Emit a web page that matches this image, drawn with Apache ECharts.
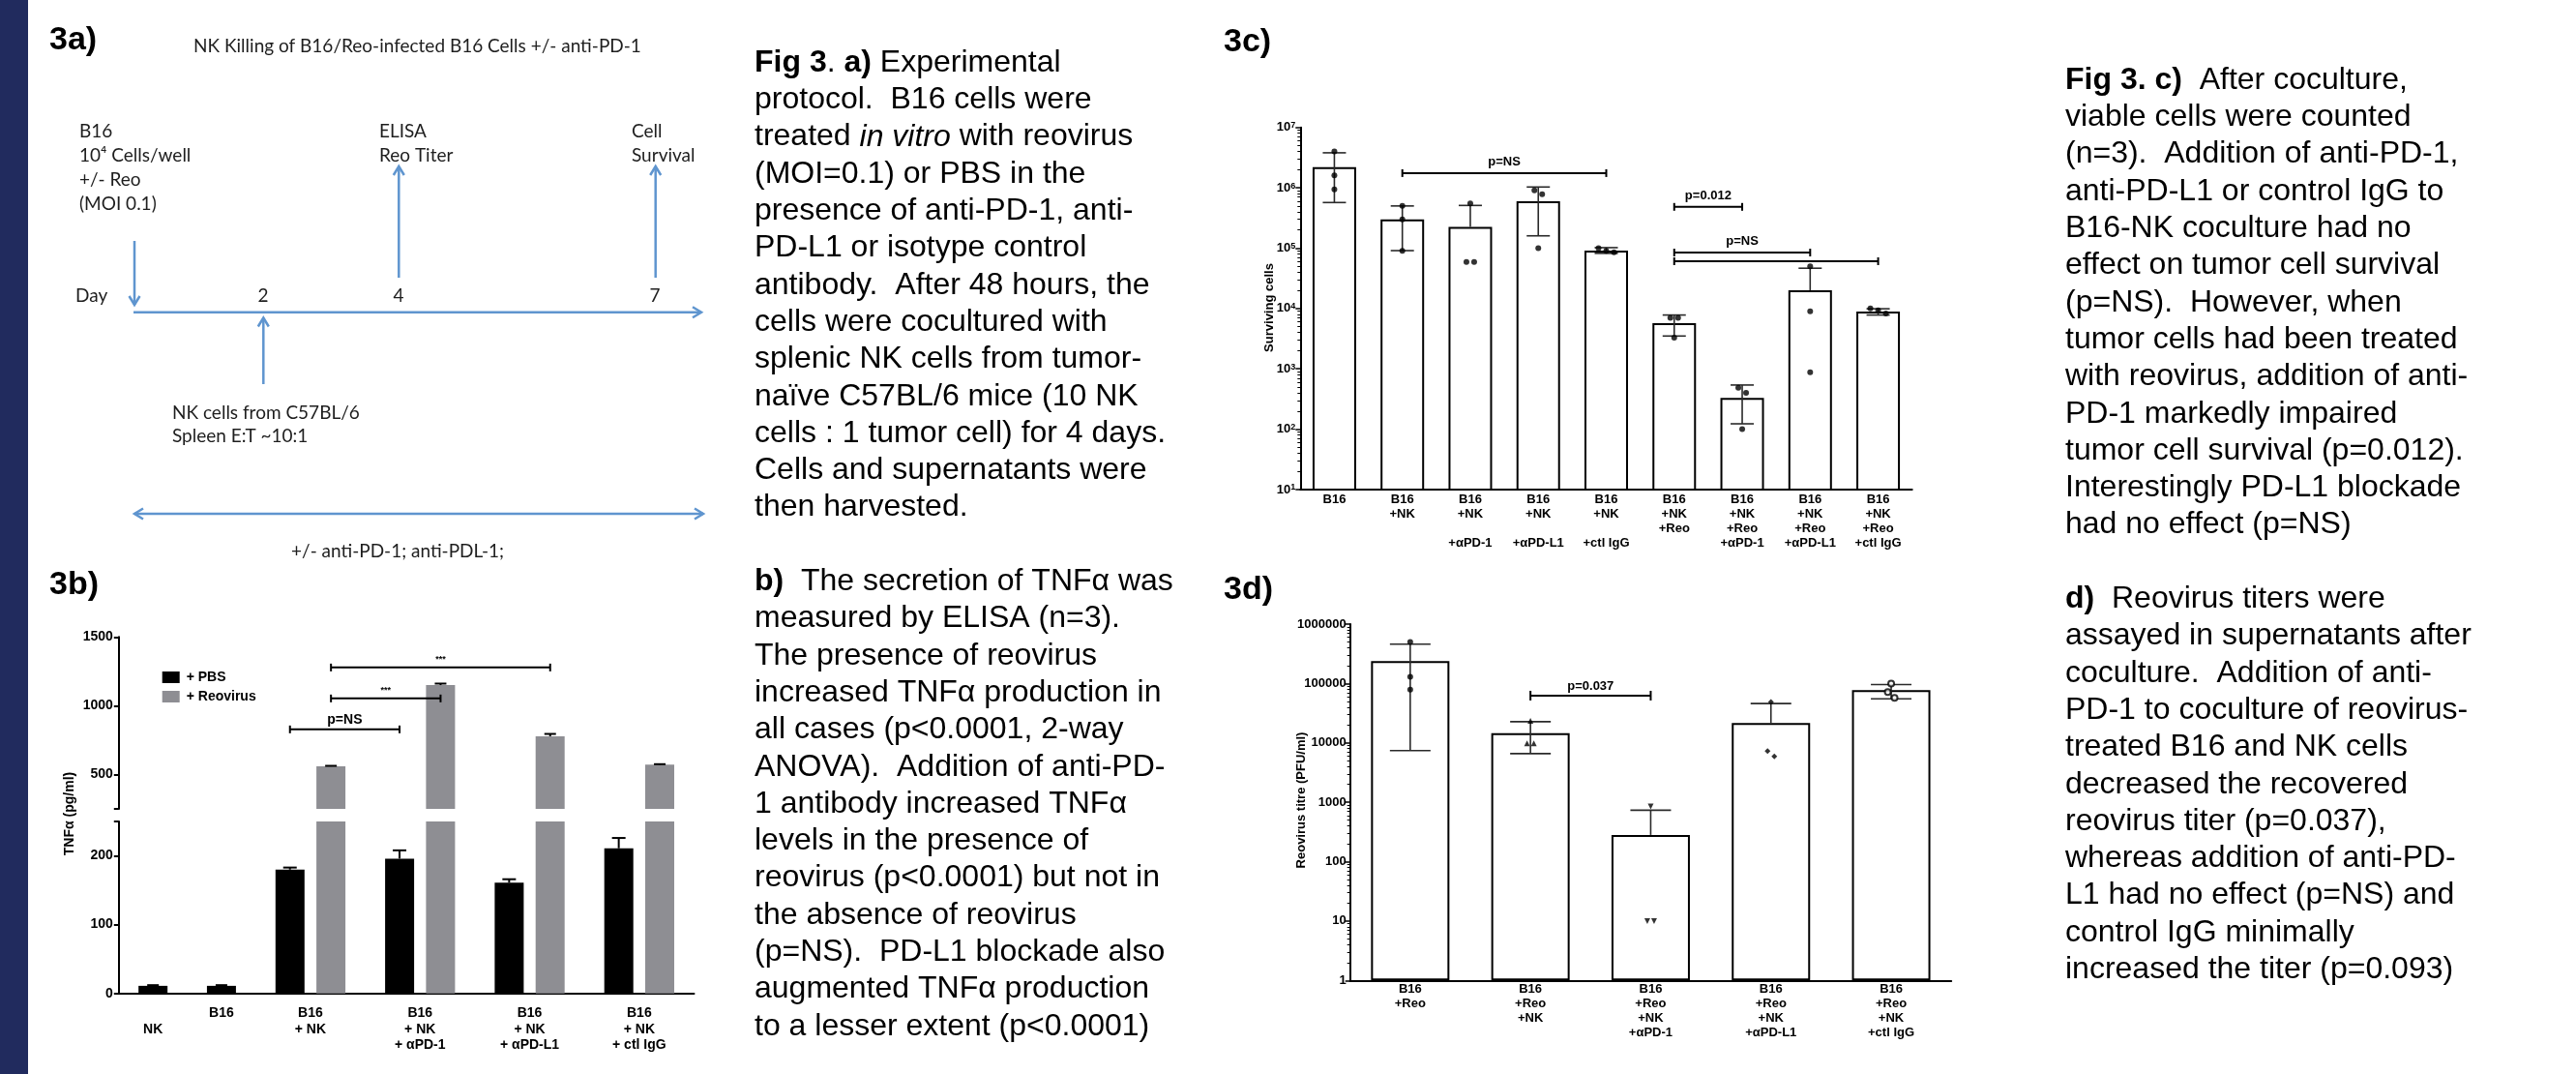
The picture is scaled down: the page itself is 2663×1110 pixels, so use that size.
<!DOCTYPE html>
<html>
<head>
<meta charset="utf-8">
<title>Fig 3 - NK killing of B16 / Reo-infected B16 cells +/- anti-PD-1</title>
<script src="https://cdn.jsdelivr.net/npm/echarts@6/dist/echarts.min.js"></script>
<style>
html, body { margin: 0; padding: 0; background: #fff; }
#chart { width: 2663px; height: 1110px; }
</style>
</head>
<body>
<div id="chart"></div>
<script>
var SANS = "'Liberation Sans', Arial, Helvetica, sans-serif";
var CALIBRI = "Lato, 'Open Sans', sans-serif";
var BLUE = '#5f95cf';
var GREY = '#8e8e93';

// ---- 3b: TNFa ELISA ----
var tnfControlCats = ['NK', 'B16'];
var tnfControlVals = [11, 11];
var tnfControlErr = [1, 1];
var tnfGroupCats = ['B16\n+ NK', 'B16\n+ NK\n+ αPD-1', 'B16\n+ NK\n+ αPD-L1', 'B16\n+ NK\n+ ctl IgG'];
var tnfPbs = [180, 196, 161, 211];
var tnfPbsErr = [3, 12, 5, 15];
var tnfReo = [559, 1150, 778, 572];
var tnfReoErr = [4, 11, 17, 3];
// side: -1 = PBS bar, 1 = Reovirus bar
var tnfBrackets = [
    { from: 0, fromSide: -1, to: 1, toSide: -1, y: 828, text: 'p=NS' },
    { from: 0, fromSide: 1, to: 1, toSide: 1, y: 1053, text: '***' },
    { from: 0, fromSide: 1, to: 2, toSide: 1, y: 1278, text: '***' }
];

// ---- 3c: surviving cells ----
var survCats = ['B16', 'B16\n+NK', 'B16\n+NK\n\n+αPD-1', 'B16\n+NK\n\n+αPD-L1', 'B16\n+NK\n\n+ctl IgG',
    'B16\n+NK\n+Reo', 'B16\n+NK\n+Reo\n+αPD-1', 'B16\n+NK\n+Reo\n+αPD-L1', 'B16\n+NK\n+Reo\n+ctl IgG'];
var survMean = [2.2e6, 3.0e5, 2.24e5, 6.0e5, 9.1e4, 5.7e3, 330, 2.0e4, 8.9e3];
var survLow = [5.7e5, 9.1e4, null, 1.6e5, 8.2e4, 3.5e3, 123, null, 7.8e3];
var survHigh = [3.8e6, 5.0e5, 5.1e5, 1.03e6, 1.02e5, 7.8e3, 540, 4.65e4, 9.9e3];
var survPoints = [
    [4.0e6, 1.6e6, 9.4e5], [5.0e5, 3.0e5, 9.0e4], [5.5e5, 5.9e4, 5.9e4],
    [9.1e5, 7.8e5, 1.0e5], [1.0e5, 9.0e4, 8.5e4], [7.0e3, 7.0e3, 3.3e3],
    [485, 400, 100], [5.0e4, 9.0e3, 880], [1.0e4, 9.3e3, 8.3e3]
];
var survBrackets = [
    { from: 1, to: 4, y: 1.75e6, text: 'p=NS' },
    { from: 5, to: 6, y: 4.83e5, text: 'p=0.012' },
    { from: 5, to: 7, y: 8.45e4, text: 'p=NS' },
    { from: 5, to: 8, y: 6.07e4, text: '' }
];

// ---- 3d: reovirus titre ----
var titreCats = ['B16\n+Reo', 'B16\n+Reo\n+NK', 'B16\n+Reo\n+NK\n+αPD-1', 'B16\n+Reo\n+NK\n+αPD-L1', 'B16\n+Reo\n+NK\n+ctl IgG'];
var titreMean = [2.38e5, 1.46e4, 282, 2.15e4, 7.7e4];
var titreLow = [7.4e3, 6.6e3, null, null, 5.5e4];
var titreHigh = [4.6e5, 2.27e4, 735, 4.6e4, 9.6e4];
var titrePoints = [
    [5.0e5, 1.3e5, 7.9e4], [2.35e4, 9.8e3, 9.8e3], [850, 10, 10],
    [4.9e4, 7.3e3, 5.9e3], [1.0e5, 7.2e4, 5.7e4]
];
var titreSymbols = ['circle', 'triangle', 'triangle', 'diamond', 'emptyCircle'];
var titreSymbolRotate = [0, 0, 180, 0, 0];
var titreBrackets = [{ from: 1, to: 2, y: 6.24e4, text: 'p=0.037' }];

// ---- legends text ----
var captionLeft = [
    '{b|Fig 3}. {b|a)} Experimental',
    'protocol.  B16 cells were',
    'treated {i|in vitro} with reovirus',
    '(MOI=0.1) or PBS in the',
    'presence of anti-PD-1, anti-',
    'PD-L1 or isotype control',
    'antibody.  After 48 hours, the',
    'cells were cocultured with',
    'splenic NK cells from tumor-',
    'naïve C57BL/6 mice (10 NK',
    'cells : 1 tumor cell) for 4 days.',
    'Cells and supernatants were',
    'then harvested.',
    '',
    '{b|b)}  The secretion of TNFα was',
    'measured by ELISA (n=3).',
    'The presence of reovirus',
    'increased TNFα production in',
    'all cases (p<0.0001, 2-way',
    'ANOVA).  Addition of anti-PD-',
    '1 antibody increased TNFα',
    'levels in the presence of',
    'reovirus (p<0.0001) but not in',
    'the absence of reovirus',
    '(p=NS).  PD-L1 blockade also',
    'augmented TNFα production',
    'to a lesser extent (p<0.0001)'
];
var captionRight = [
    '{b|Fig 3. c)}  After coculture,',
    'viable cells were counted',
    '(n=3).  Addition of anti-PD-1,',
    'anti-PD-L1 or control IgG to',
    'B16-NK coculture had no',
    'effect on tumor cell survival',
    '(p=NS).  However, when',
    'tumor cells had been treated',
    'with reovirus, addition of anti-',
    'PD-1 markedly impaired',
    'tumor cell survival (p=0.012).',
    'Interestingly PD-L1 blockade',
    'had no effect (p=NS)',
    '',
    '{b|d)}  Reovirus titers were',
    'assayed in supernatants after',
    'coculture.  Addition of anti-',
    'PD-1 to coculture of reovirus-',
    'treated B16 and NK cells',
    'decreased the recovered',
    'reovirus titer (p=0.037),',
    'whereas addition of anti-PD-',
    'L1 had no effect (p=NS) and',
    'control IgG minimally',
    'increased the titer (p=0.093)'
];

// ---------- helpers ----------
function txt(s, x, y, font, align, color) {
    return {
        type: 'text', x: x, y: y, silent: true,
        style: {
            text: s, font: font, fill: color || '#000',
            align: align || 'left', verticalAlign: 'middle',
            textAlign: align || 'left', textVerticalAlign: 'middle'
        }
    };
}

function vtxt(s, x, y, font) {
    var t = txt(s, 0, 0, font, 'center');
    t.x = x;
    t.y = y;
    t.rotation = Math.PI / 2;
    return t;
}

function arrowHead(x, y, d) {
    var len = 9, half = 5.5;
    var bx = x - d[0] * len, by = y - d[1] * len;
    var px = -d[1] * half, py = d[0] * half;
    return {
        type: 'polyline', silent: true,
        shape: { points: [[bx + px, by + py], [x, y], [bx - px, by - py]] },
        style: { stroke: BLUE, lineWidth: 2.5, fill: 'none' }
    };
}

function arrow(x1, y1, x2, y2, both) {
    var dx = x2 - x1, dy = y2 - y1, l = Math.sqrt(dx * dx + dy * dy);
    var d = [dx / l, dy / l];
    var els = [
        { type: 'line', silent: true, shape: { x1: x1, y1: y1, x2: x2, y2: y2 }, style: { stroke: BLUE, lineWidth: 2.5 } },
        arrowHead(x2, y2, d)
    ];
    if (both) {
        els.push(arrowHead(x1, y1, [-d[0], -d[1]]));
    }
    return els;
}

function seg(x1, y1, x2, y2, color, width) {
    return { type: 'line', shape: { x1: x1, y1: y1, x2: x2, y2: y2 }, style: { stroke: color, lineWidth: width } };
}

// error bars drawn through the axes of the chart they belong to
function errorSeries(xi, yi, means, lows, highs, shift, cap, color, width) {
    return {
        type: 'custom', xAxisIndex: xi, yAxisIndex: yi, silent: true, z: 4,
        data: means.map(function (m, i) { return [i, m]; }),
        encode: { x: 0, y: 1 },
        renderItem: function (params, api) {
            var i = params.dataIndex;
            var hi = api.coord([i, highs[i]]);
            var x = hi[0] + shift;
            var base = api.coord([i, means[i]])[1];
            var hasLow = lows && lows[i];
            var lo = hasLow ? api.coord([i, lows[i]])[1] : base;
            var kids = [
                seg(x, lo, x, hi[1], color, width),
                seg(x - cap / 2, hi[1], x + cap / 2, hi[1], color, width)
            ];
            if (hasLow) {
                kids.push(seg(x - cap / 2, lo, x + cap / 2, lo, color, width));
            }
            return { type: 'group', children: kids };
        }
    };
}

// significance brackets
function bracketSeries(xi, yi, list, shift, opt) {
    return {
        type: 'custom', xAxisIndex: xi, yAxisIndex: yi, silent: true, z: 6,
        data: list.map(function (b) { return [b.from, b.y]; }),
        encode: { x: 0, y: 1 },
        renderItem: function (params, api) {
            var b = list[params.dataIndex];
            var p1 = api.coord([b.from, b.y]);
            var p2 = api.coord([b.to, b.y]);
            var x1 = p1[0] + (b.fromSide || 0) * shift;
            var x2 = p2[0] + (b.toSide || 0) * shift;
            var y = p1[1];
            var kids = [
                seg(x1, y, x2, y, '#000', 2),
                seg(x1, y - opt.tick, x1, y + opt.tick, '#000', 2),
                seg(x2, y - opt.tick, x2, y + opt.tick, '#000', 2)
            ];
            if (b.text) {
                var star = b.text === '***';
                kids.push({
                    type: 'text', x: (x1 + x2) / 2, y: y - (star ? opt.starGap : opt.gap),
                    style: {
                        text: b.text, fill: '#000',
                        font: 'bold ' + (star ? 9 : opt.size) + 'px ' + SANS,
                        align: 'center', verticalAlign: 'middle',
                        textAlign: 'center', textVerticalAlign: 'middle'
                    }
                });
            }
            return { type: 'group', children: kids };
        }
    };
}

// put overlapping replicate points side by side
function spreadPoints(points, step, symbols, rotates) {
    var out = [];
    points.forEach(function (vals, ci) {
        var sorted = vals.slice().sort(function (a, b) { return b - a; });
        var clusters = [];
        sorted.forEach(function (v) {
            var c = clusters[clusters.length - 1];
            if (c && Math.log10(c[c.length - 1]) - Math.log10(v) < 0.12) {
                c.push(v);
            } else {
                clusters.push([v]);
            }
        });
        clusters.forEach(function (c) {
            c.forEach(function (v, j) {
                var item = { value: [ci, v], symbolOffset: [(j - (c.length - 1) / 2) * step, 0] };
                if (symbols) {
                    item.symbol = symbols[ci];
                    item.symbolRotate = rotates[ci];
                }
                out.push(item);
            });
        });
    });
    return out;
}

function logTicks(lo, hi, minor) {
    var out = [];
    for (var e = lo; e <= hi; e++) {
        if (!minor) {
            out.push(Math.pow(10, e));
        } else if (e < hi) {
            for (var k = 2; k <= 9; k++) out.push(k * Math.pow(10, e));
        }
    }
    return out;
}

function addHigh(vals, errs) {
    return vals.map(function (v, i) { return v + errs[i]; });
}

function plain(v) {
    return String(Math.round(v));
}

// ---------- page graphics ----------
var g = [];
g.push({ type: 'rect', silent: true, shape: { x: 0, y: 0, width: 29, height: 1110 }, style: { fill: '#212b5e' } });

var panelFont = 'bold 34px ' + SANS;
g.push(txt('3a)', 51, 42, panelFont));
g.push(txt('3b)', 51, 605, panelFont));
g.push(txt('3c)', 1265, 44, panelFont));
g.push(txt('3d)', 1265, 610, panelFont));

// 3a protocol diagram
var pf = '19px ' + CALIBRI;
var pc = '#1e1e1e';
g.push(txt('NK Killing of B16/Reo-infected B16 Cells +/- anti-PD-1', 200, 48, pf, 'left', pc));
['B16', '10⁴ Cells/well', '+/- Reo', '(MOI 0.1)'].forEach(function (s, i) {
    g.push(txt(s, 82, 136 + i * 24.9, pf, 'left', pc));
});
g.push(txt('ELISA', 392, 136, pf, 'left', pc));
g.push(txt('Reo Titer', 392, 161, pf, 'left', pc));
g.push(txt('Cell', 653, 136, pf, 'left', pc));
g.push(txt('Survival', 653, 161, pf, 'left', pc));
g.push(txt('Day', 78, 306, pf, 'left', pc));
g.push(txt('2', 272, 306, pf, 'center', pc));
g.push(txt('4', 412, 306, pf, 'center', pc));
g.push(txt('7', 677, 306, pf, 'center', pc));
g.push(txt('NK cells from C57BL/6', 178, 427, pf, 'left', pc));
g.push(txt('Spleen E:T ~10:1', 178, 451, pf, 'left', pc));
g.push(txt('+/- anti-PD-1; anti-PDL-1;', 411, 570, pf, 'center', pc));
g = g.concat(
    arrow(139, 249, 139, 315),
    arrow(138, 322.7, 725, 322.7),
    arrow(272.3, 397, 272.3, 328.5),
    arrow(412.3, 287, 412.3, 172),
    arrow(677.7, 287, 677.7, 172),
    arrow(139, 531, 727, 531, true)
);

// axis titles
g.push(vtxt('TNFα (pg/ml)', 72, 841, 'bold 14px ' + SANS));
g.push(vtxt('Surviving cells', 1312, 318, 'bold 13px ' + SANS));
g.push(vtxt('Reovirus titre (PFU/ml)', 1345, 827, 'bold 13px ' + SANS));

// figure legends (captions)
function captionBlock(lines, x, yTop) {
    var base = { fontSize: 32, fontFamily: SANS, lineHeight: 38.3, fill: '#000', color: '#000' };
    return {
        type: 'text', x: x, y: yTop, silent: true,
        style: {
            text: lines.join('\n'), fontSize: 32, fontFamily: SANS, lineHeight: 38.3, fill: '#000',
            align: 'left', verticalAlign: 'top', textAlign: 'left', textVerticalAlign: 'top',
            rich: {
                b: Object.assign({}, base, { fontWeight: 'bold' }),
                i: Object.assign({}, base, { fontStyle: 'italic' })
            }
        }
    };
}
g.push(captionBlock(captionLeft, 780, 45.9));
g.push(captionBlock(captionRight, 2135, 63.9));

// ---------- axes ----------
function catAxis(grid, data, size, lh, margin, formatter) {
    return {
        gridIndex: grid, type: 'category', data: data,
        axisLine: { lineStyle: { color: '#000', width: 2 } },
        axisTick: { show: false },
        axisLabel: {
            interval: 0, margin: margin, fontSize: size, fontWeight: 'bold', fontFamily: SANS,
            color: '#000', lineHeight: lh, formatter: formatter
        }
    };
}

var tickStyle = { color: '#000', width: 2 };
var labelStyle = { fontSize: 14, fontWeight: 'bold', fontFamily: SANS, color: '#000', formatter: plain };

var xAxes = [
    catAxis(0, tnfControlCats, 14, 16.3, 12.6, function (v) { return v === 'NK' ? '\nNK' : v; }),
    catAxis(1, tnfGroupCats, 14, 16.3, 12.6),
    { gridIndex: 2, type: 'category', data: tnfGroupCats, show: false },
    catAxis(3, survCats, 13, 15, 3),
    catAxis(4, titreCats, 13, 15, 2)
];

var yAxes = [
    {
        gridIndex: 0, type: 'value', position: 'left', min: 0, max: 250,
        axisLine: { show: true, lineStyle: tickStyle },
        axisTick: { show: true, length: 5, lineStyle: tickStyle, customValues: [0, 100, 200, 250] },
        axisLabel: Object.assign({ margin: 6, customValues: [0, 100, 200] }, labelStyle),
        splitLine: { show: false }
    },
    { gridIndex: 1, type: 'value', position: 'left', min: 0, max: 250, show: false },
    {
        gridIndex: 2, type: 'value', position: 'left', offset: 141.5, min: 250, max: 1500,
        axisLine: { show: true, lineStyle: tickStyle },
        axisTick: { show: true, length: 5, lineStyle: tickStyle, customValues: [250, 500, 1000, 1500] },
        axisLabel: Object.assign({ margin: 6, customValues: [500, 1000, 1500] }, labelStyle),
        splitLine: { show: false }
    },
    {
        gridIndex: 3, type: 'log', logBase: 10, position: 'left', min: 10, max: 1e7,
        axisLine: { show: true, lineStyle: tickStyle },
        axisTick: { show: true, length: 5, lineStyle: { color: '#000', width: 1.5 }, customValues: logTicks(1, 7) },
        axisLabel: {
            margin: 5, customValues: logTicks(1, 7),
            formatter: function (v) { return '{b|10}{s|' + Math.round(Math.log10(v)) + '}'; },
            rich: {
                b: { fontSize: 13, fontWeight: 'bold', fontFamily: SANS, color: '#000' },
                s: { fontSize: 9, fontWeight: 'bold', fontFamily: SANS, color: '#000', verticalAlign: 'top' }
            }
        },
        splitLine: { show: false }
    },
    {
        gridIndex: 3, type: 'log', logBase: 10, position: 'left', min: 10, max: 1e7,
        axisLine: { show: false },
        axisTick: { show: true, length: 3, lineStyle: { color: '#000', width: 1 }, customValues: logTicks(1, 7, true) },
        axisLabel: { show: false },
        splitLine: { show: false }
    },
    {
        gridIndex: 4, type: 'log', logBase: 10, position: 'left', min: 1, max: 1e6,
        axisLine: { show: true, lineStyle: tickStyle },
        axisTick: { show: true, length: 5, lineStyle: { color: '#000', width: 1.5 }, customValues: logTicks(0, 6) },
        axisLabel: {
            margin: 4, customValues: logTicks(0, 6), fontSize: 13, fontWeight: 'bold', fontFamily: SANS, color: '#000',
            formatter: plain
        },
        splitLine: { show: false }
    },
    {
        gridIndex: 4, type: 'log', logBase: 10, position: 'left', min: 1, max: 1e6,
        axisLine: { show: false },
        axisTick: { show: true, length: 3, lineStyle: { color: '#000', width: 1 }, customValues: logTicks(0, 6, true) },
        axisLabel: { show: false },
        splitLine: { show: false }
    }
];

// ---------- series ----------
var openBar = { color: '#fff', borderColor: '#000', borderWidth: 2 };
var TNF_SHIFT = 21.2;   // half distance between PBS and Reovirus bar centres

var series = [
    { type: 'bar', name: '+ PBS', xAxisIndex: 0, yAxisIndex: 0, data: tnfControlVals, barWidth: 30, itemStyle: { color: '#000' } },
    { type: 'bar', name: '+ PBS', xAxisIndex: 1, yAxisIndex: 1, data: tnfPbs, barWidth: 30, barGap: '41%', itemStyle: { color: '#000' } },
    { type: 'bar', name: '+ Reovirus', xAxisIndex: 1, yAxisIndex: 1, data: tnfReo, barWidth: 30, barGap: '41%', itemStyle: { color: GREY } },
    { type: 'bar', name: '+ PBS', xAxisIndex: 2, yAxisIndex: 2, data: tnfPbs, barWidth: 30, barGap: '41%', itemStyle: { color: '#000' } },
    { type: 'bar', name: '+ Reovirus', xAxisIndex: 2, yAxisIndex: 2, data: tnfReo, barWidth: 30, barGap: '41%', itemStyle: { color: GREY } },
    errorSeries(0, 0, tnfControlVals, null, addHigh(tnfControlVals, tnfControlErr), 0, 12, '#000', 2),
    errorSeries(1, 1, tnfPbs, null, addHigh(tnfPbs, tnfPbsErr), -TNF_SHIFT, 14, '#000', 2),
    errorSeries(2, 2, tnfReo, null, addHigh(tnfReo, tnfReoErr), TNF_SHIFT, 12, '#000', 2),
    bracketSeries(2, 2, tnfBrackets, TNF_SHIFT, { tick: 4, gap: 10, starGap: 8.5, size: 14 }),

    { type: 'bar', name: 'Surviving cells', xAxisIndex: 3, yAxisIndex: 3, data: survMean, barWidth: 45, itemStyle: openBar },
    errorSeries(3, 3, survMean, survLow, survHigh, 0, 24, '#2a2a2a', 1.6),
    {
        type: 'scatter', xAxisIndex: 3, yAxisIndex: 3, silent: true, z: 7,
        data: spreadPoints(survPoints, 8), symbol: 'circle', symbolSize: 6, itemStyle: { color: '#000' }
    },
    bracketSeries(3, 3, survBrackets, 0, { tick: 4, gap: 11.5, starGap: 9, size: 13 }),

    { type: 'bar', name: 'Reovirus titre', xAxisIndex: 4, yAxisIndex: 5, data: titreMean, barWidth: 81, itemStyle: openBar },
    errorSeries(4, 5, titreMean, titreLow, titreHigh, 0, 42, '#2a2a2a', 1.6),
    {
        type: 'scatter', xAxisIndex: 4, yAxisIndex: 5, silent: true, z: 7,
        data: spreadPoints(titrePoints, 7, titreSymbols, titreSymbolRotate),
        symbolSize: 6, itemStyle: { color: '#000', borderWidth: 1.2 }
    },
    bracketSeries(4, 5, titreBrackets, 0, { tick: 5, gap: 9.5, starGap: 9, size: 13 })
];

var chart = echarts.init(document.getElementById('chart'));
chart.setOption({
    animation: false,
    backgroundColor: '#fff',
    grid: [
        { left: 122.8, top: 849, width: 141.5, height: 177.7 },
        { left: 264.3, top: 849, width: 453.2, height: 177.7 },
        { left: 264.3, top: 658.3, width: 453.2, height: 177.7 },
        { left: 1344.3, top: 131.7, width: 632.4, height: 374.3 },
        { left: 1395.7, top: 645, width: 621.5, height: 368.3 }
    ],
    legend: {
        data: ['+ PBS', '+ Reovirus'], orient: 'vertical', left: 167.7, top: 693, padding: 0,
        icon: 'rect', itemWidth: 18, itemHeight: 12, itemGap: 6, selectedMode: false,
        textStyle: { fontSize: 14, fontWeight: 'bold', fontFamily: SANS, color: '#000', padding: [0, 0, 0, 2] }
    },
    xAxis: xAxes,
    yAxis: yAxes,
    series: series,
    graphic: { elements: g }
});
window.addEventListener('resize', function () {
    chart.resize();
});
</script>
</body>
</html>
